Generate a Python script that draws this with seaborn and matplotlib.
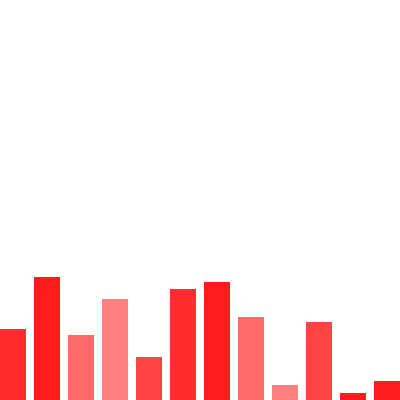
import matplotlib
matplotlib.use("Agg")
import matplotlib.pyplot as plt
import seaborn as sns
import pandas as pd

categories = ["A", "B", "C", "D", "E", "F", "G", "H", "I", "J", "K", "L"]
values = [71, 123, 65, 101, 43, 111, 118, 83, 15, 78, 7, 19]
colors = ["#ff2d2d", "#ff1c1c", "#ff6b6b", "#ff8080", "#ff4444", "#ff2d2d",
          "#ff1c1c", "#ff6b6b", "#ff8080", "#ff4444", "#ff1c1c", "#ff1c1c"]

df = pd.DataFrame({"cat": categories, "val": values})

fig = plt.figure(figsize=(4, 4), dpi=100)
ax = fig.add_axes([0, 0, 1, 1])
sns.barplot(data=df, x="cat", y="val", hue="cat", palette=colors,
            legend=False, width=0.77, saturation=1, ax=ax)
ax.set_xlim(-0.385, 11.385)
ax.set_ylim(0, 400)
ax.axis("off")
fig.savefig("out.png", dpi=100)
